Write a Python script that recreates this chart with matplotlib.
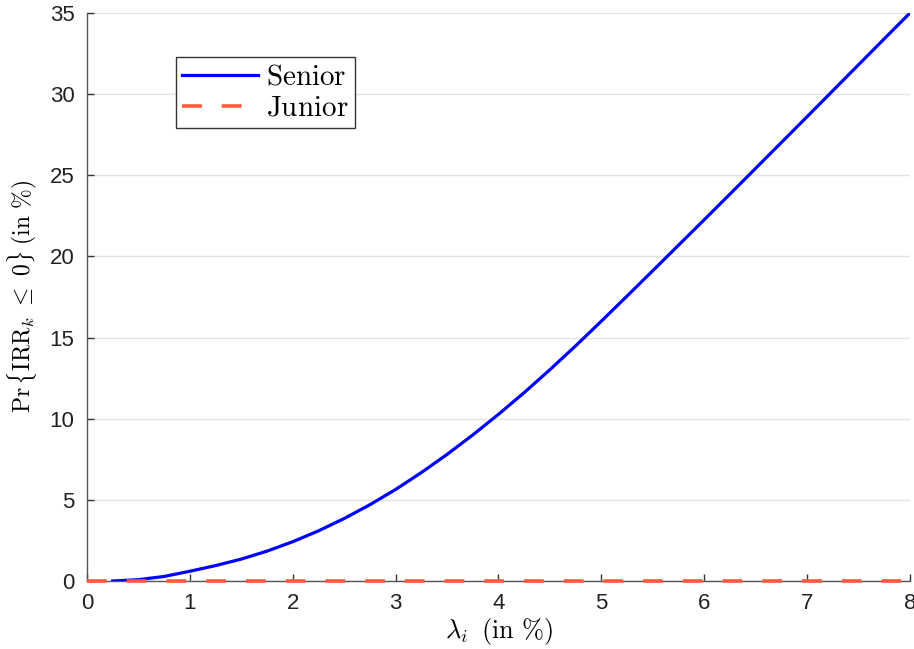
import matplotlib
matplotlib.use("Agg")
import matplotlib.pyplot as plt

plt.rcParams['mathtext.fontset'] = 'cm'
plt.rcParams['font.family'] = ['Liberation Sans', 'DejaVu Sans']

# default intensity lambda_i (in %)
lam = [0.25, 0.5, 0.75, 1.0, 1.25, 1.5, 1.75, 2.0, 2.25, 2.5, 2.75, 3.0,
       3.25, 3.5, 3.75, 4.0, 4.25, 4.5, 4.75, 5.0, 5.25, 5.5, 5.75, 6.0,
       6.25, 6.5, 6.75, 7.0, 7.25, 7.5, 7.75, 8.0]
# probability of a non-positive IRR (in %)
senior = [0.0, 0.08, 0.28, 0.6, 0.95, 1.35, 1.84, 2.42, 3.09, 3.85, 4.7, 5.64,
          6.68, 7.8, 9.0, 10.27, 11.61, 13.02, 14.49, 16.01, 17.56, 19.12, 20.69, 22.26,
          23.84, 25.43, 27.02, 28.61, 30.21, 31.81, 33.41, 35.0]
junior_lam = [0.0, 8.0]
junior = [0.0, 0.0]

fig = plt.figure(figsize=(9.14, 6.49), dpi=100)
ax = fig.add_axes([0.0952, 0.1048, 0.9004, 0.8752])

ax.plot(lam, senior, color='#0000ff', lw=2.3, label=r'$\mathrm{Senior}$', zorder=3)
ax.plot(junior_lam, junior, color='#ff5a3c', lw=2.6, ls=(0, (5.5, 5.5)),
        label=r'$\mathrm{Junior}$', zorder=4, clip_on=False)

ax.set_xlim(0, 8)
ax.set_ylim(0, 35)
ax.set_xticks(range(0, 9))
ax.set_yticks(range(0, 36, 5))
ax.yaxis.grid(True, color='#e3e3e3', lw=1.0)
ax.set_axisbelow(True)

for s in ['top', 'right']:
    ax.spines[s].set_visible(False)
for s in ['left', 'bottom']:
    ax.spines[s].set_color('#555555')
    ax.spines[s].set_linewidth(1.0)
ax.tick_params(direction='in', length=5, width=1, color='#333333',
               labelsize=16, labelcolor='#222222')
ax.tick_params(axis='x', pad=9)
ax.tick_params(axis='y', pad=9)

ax.set_xlabel(r'$\lambda_i\;\;\mathrm{(in\ \%)}$', fontsize=19, labelpad=1)
ax.set_ylabel(r'$\mathrm{Pr}\,\{\mathrm{IRR}_k\ \leq\ 0\}\;\mathrm{(in\ \%)}$',
              fontsize=17, labelpad=8)

leg = ax.legend(loc='upper left', bbox_to_anchor=(0.108, 0.9225), fontsize=21,
                fancybox=False, framealpha=1, edgecolor='#333333',
                handlelength=2.6, handletextpad=0.3, borderpad=0.2,
                labelspacing=0.1, borderaxespad=0)
leg.get_frame().set_linewidth(1.0)

fig.savefig('out.png', dpi=100)
